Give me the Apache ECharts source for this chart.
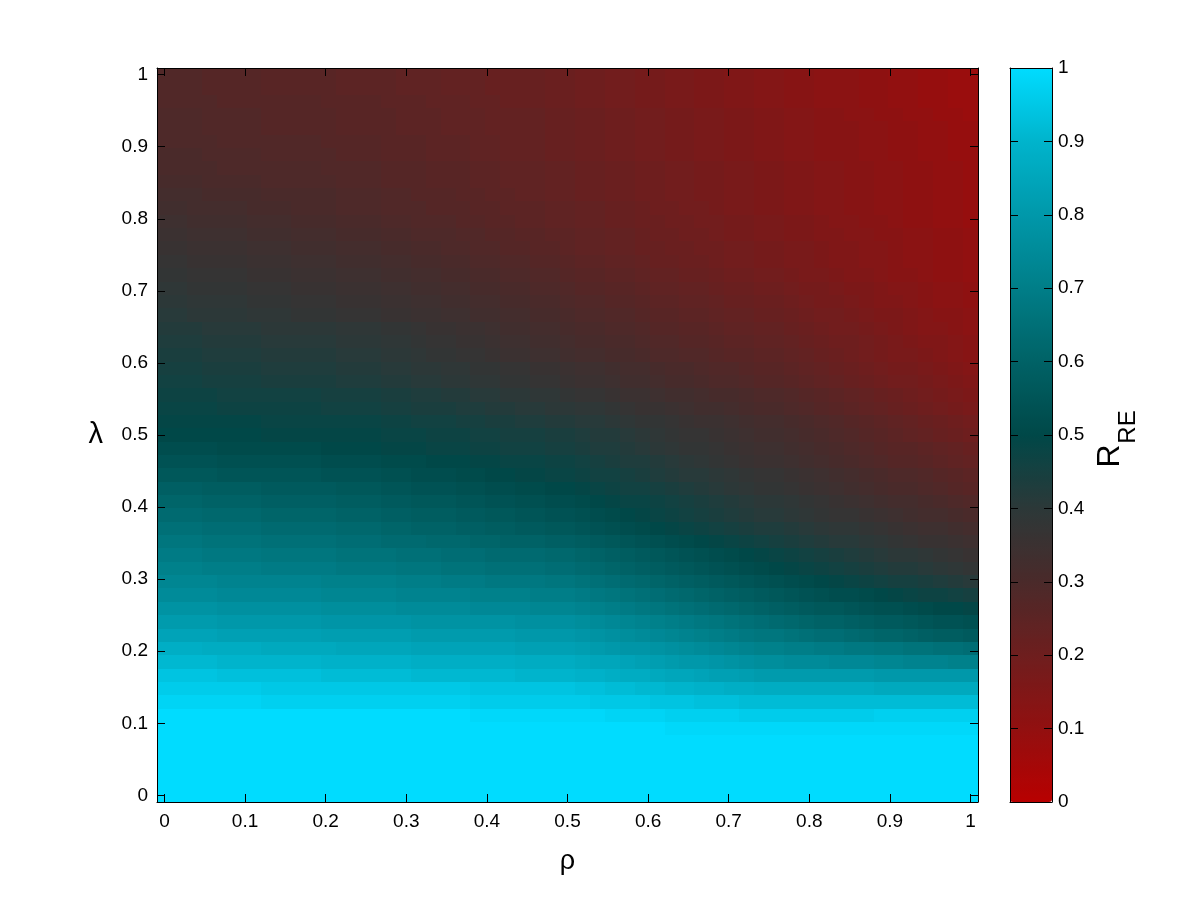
<!DOCTYPE html>
<html>
<head>
<meta charset="utf-8">
<script src="https://cdn.jsdelivr.net/npm/echarts@6/dist/echarts.min.js"></script>
<style>
  html, body { margin: 0; padding: 0; background: #fff; }
  #chart { width: 1200px; height: 901px; }
</style>
</head>
<body>
<div id="chart"></div>
<script>
// sampling of rho (x) and lambda (y): 55 points on [0, 1]
const rho = [0, 0.0185, 0.0370, 0.0556, 0.0741, 0.0926, 0.1111, 0.1296, 0.1481, 0.1667, 0.1852,
  0.2037, 0.2222, 0.2407, 0.2593, 0.2778, 0.2963, 0.3148, 0.3333, 0.3519, 0.3704, 0.3889,
  0.4074, 0.4259, 0.4444, 0.4630, 0.4815, 0.5, 0.5185, 0.5370, 0.5556, 0.5741, 0.5926,
  0.6111, 0.6296, 0.6481, 0.6667, 0.6852, 0.7037, 0.7222, 0.7407, 0.7593, 0.7778, 0.7963,
  0.8148, 0.8333, 0.8519, 0.8704, 0.8889, 0.9074, 0.9259, 0.9444, 0.9630, 0.9815, 1]
const lambda = rho.slice()

// R_RE in percent, one row per lambda (first row = lambda 0), one column per rho
const rrePct = [
  [100,100,100,100,100,100,100,100,100,100,100,100,100,100, 100,100,100,100,100,100,100,100,100,100,100,100,100,100, 100,100,100,100,100,100,100,100,100,100,100,100,100, 100,100,100,100,100,100,100,100,100,100,100,100,100,100],
  [100,100,100,100,100,100,100,100,100,100,100,100,100,100, 100,100,100,100,100,100,100,100,100,100,100,100,100,100, 100,100,100,100,100,100,100,100,100,100,100,100,100, 100,100,100,100,100,100,100,100,100,100,100,100,100,100],
  [100,100,100,100,100,100,100,100,100,100,100,100,100,100, 100,100,100,100,100,100,100,100,100,100,100,100,100,100, 100,100,100,100,100,100,100,100,100,100,100,100,100, 100,100,100,100,100,100,100,100,100,100,100,100,100,100],
  [100,100,100,100,100,100,100,100,100,100,100,100,100,100, 100,100,100,100,100,100,100,100,100,100,100,100,100,100, 100,100,100,100,100,100,100,100,100,100,100,100,100, 100,100,100,100,100,100,100,100,100,100,100,100,100,100],
  [100,100,100,100,100,100,100,100,100,100,100,100,100,100, 100,100,100,100,100,100,100,100,100,100,100,100,100,100, 100,100,100,100,100,100,100,100,100,100,100,100,100, 100,100,100,100,100,100,100,100,100,100,100,100,100,100],
  [100,100,100,100,100,100,100,100,100,100,100,100,100,100, 100,100,100,100,100,100,100,100,100,100,100,100,100,100, 100,100,100,100,100,100,99,99,99,99,99,99,99, 99,99,99,99,99,99,99,99,99,99,99,99,99,99],
  [100,100,100,100,100,100,100,100,100,100,100,100,100,100, 100,100,100,100,100,100,100,99,99,99,99,99,99,99, 99,99,98,98,98,98,97,97,97,97,97,96,96, 96,96,96,96,96,96,96,97,97,97,97,97,97,97],
  [98,98,98,98,98,98,98,97,97,97,97,97,97,97, 97,97,97,97,97,97,97,96,96,96,96,96,96,96, 96,95,95,95,95,94,94,94,93,93,93,92,92, 92,92,92,92,92,92,92,92,92,92,92,92,92,92],
  [96,96,96,96,96,96,96,95,95,95,95,95,95,95, 95,95,95,95,95,95,95,94,94,94,94,94,94,94, 93,93,92,92,91,91,90,90,89,89,88,88,87, 87,87,87,87,87,87,87,86,86,86,86,86,86,86],
  [94,94,94,94,93,93,93,93,93,93,93,92,92,92, 92,92,92,91,91,91,91,91,91,91,90,90,90,90, 89,89,88,87,87,86,85,85,84,83,83,82,81, 81,81,81,81,81,81,81,80,80,80,80,80,80,80],
  [91,91,91,91,90,90,90,90,90,90,90,89,89,89, 89,89,89,88,88,88,88,88,88,88,87,87,87,87, 86,85,85,84,83,82,81,80,80,79,78,77,76, 76,75,75,75,74,74,74,73,73,72,72,72,71,71],
  [88,88,88,87,87,87,87,86,86,86,86,86,85,85, 85,85,85,84,84,84,84,84,84,84,83,83,83,83, 82,81,80,79,79,78,77,76,75,74,73,72,71, 71,70,70,69,69,68,68,67,67,66,66,65,65,64],
  [84,84,84,84,83,83,83,83,83,83,83,82,82,82, 82,82,82,81,81,81,81,81,81,81,80,80,80,80, 79,78,77,76,75,74,73,72,71,70,69,68,67, 67,66,65,64,64,63,62,61,61,60,59,58,58,57],
  [81,81,81,81,80,80,80,80,80,80,80,79,79,79, 79,79,79,78,78,78,78,78,78,78,77,77,77,77, 76,75,74,73,72,71,70,69,68,67,66,65,64, 63,62,61,60,60,59,58,57,57,56,55,54,54,53],
  [78,78,78,78,77,77,77,77,77,77,77,76,76,76, 76,76,75,75,75,75,75,74,74,74,74,73,73,73, 72,71,70,69,68,67,66,65,64,63,62,61,60, 59,58,57,56,56,55,54,53,53,52,51,50,50,49],
  [75,75,75,75,74,74,74,74,74,74,74,73,73,73, 73,73,72,72,72,72,72,71,71,71,71,70,70,70, 69,68,67,66,65,64,63,62,61,60,59,58,57, 56,55,54,53,52,52,51,50,49,48,47,47,46,45],
  [73,73,73,73,72,72,72,72,72,72,72,71,71,71, 71,71,70,70,70,69,69,69,68,68,68,68,67,67, 66,65,64,63,62,61,60,59,58,57,56,55,54, 53,52,51,50,49,48,47,46,45,45,44,43,42,41],
  [71,71,71,70,70,70,70,69,69,69,69,69,68,68, 68,68,67,67,67,66,66,66,65,65,65,65,64,64, 63,62,61,60,59,58,57,56,55,54,53,52,51, 50,49,48,47,46,45,44,43,42,42,41,40,39,38],
  [69,69,69,68,68,68,68,67,67,67,67,67,66,66, 66,66,65,65,65,64,64,64,63,63,63,63,62,62, 61,60,59,58,57,56,55,54,53,52,51,50,49, 48,47,46,45,44,43,42,41,40,40,39,38,37,36],
  [67,67,67,66,66,66,66,65,65,65,65,65,64,64, 64,63,63,63,62,62,62,61,61,60,60,60,59,59, 58,57,56,55,54,53,52,51,50,49,48,47,46, 45,44,43,42,41,41,40,39,38,37,36,36,35,34],
  [65,65,65,64,64,64,64,63,63,63,63,63,62,62, 62,61,61,60,60,60,59,59,58,58,57,57,56,56, 55,54,53,52,51,50,49,48,47,46,45,44,43, 43,42,41,40,39,39,38,37,36,35,34,34,33,32],
  [63,63,63,62,62,62,62,61,61,61,61,61,60,60, 60,59,59,58,58,58,57,57,56,56,55,55,54,54, 53,52,51,50,49,48,47,46,45,44,43,42,41, 41,40,39,38,37,37,36,35,34,33,32,32,31,30],
  [61,61,61,60,60,60,60,59,59,59,59,59,58,58, 58,57,57,56,56,56,55,55,54,54,53,53,52,52, 51,50,49,48,48,47,46,45,44,43,42,41,40, 40,39,38,37,36,35,34,33,32,32,31,30,29,28],
  [59,59,59,58,58,58,58,57,57,57,57,57,56,56, 56,55,55,54,54,54,53,53,52,52,51,51,50,50, 49,48,47,46,46,45,44,43,42,41,40,39,38, 38,37,36,35,34,33,32,31,30,30,29,28,27,26],
  [56,56,56,56,55,55,55,55,55,55,55,54,54,54, 54,53,53,52,52,52,51,51,50,50,49,49,48,48, 47,46,46,45,44,43,42,41,41,40,39,38,37, 37,36,35,34,33,32,31,30,29,29,28,27,26,25],
  [54,54,54,54,53,53,53,53,53,53,53,52,52,52, 52,51,51,51,50,50,50,49,49,48,48,48,47,47, 46,45,44,43,43,42,41,40,39,38,37,36,35, 35,34,33,32,31,30,29,28,27,27,26,25,24,23],
  [52,52,52,52,51,51,51,51,51,51,51,50,50,50, 50,49,49,49,48,48,48,47,47,46,46,46,45,45, 44,43,43,42,41,40,39,38,38,37,36,35,34, 34,33,32,31,30,29,28,27,26,26,25,24,23,22],
  [50,50,50,50,50,50,50,49,49,49,49,49,49,49, 49,48,48,48,47,47,47,46,46,45,45,45,44,44, 43,42,42,41,40,39,38,37,37,36,35,34,33, 33,32,31,30,29,28,27,26,25,24,23,22,21,20],
  [49,49,49,49,49,49,49,48,48,48,48,48,48,48, 48,47,47,46,46,46,45,45,44,44,43,43,42,42, 41,41,40,39,38,38,37,36,35,35,34,33,32, 32,31,30,29,28,27,26,25,24,23,22,21,20,19],
  [48,48,48,48,47,47,47,47,47,47,47,46,46,46, 46,45,45,44,44,44,43,43,42,42,41,41,40,40, 39,39,38,37,36,36,35,34,33,33,32,31,30, 30,29,28,27,26,25,24,23,22,21,20,19,18,17],
  [47,47,47,47,46,46,46,46,46,46,46,45,45,45, 45,44,44,43,43,42,42,41,41,40,40,39,39,38, 37,37,36,35,35,34,33,33,32,31,31,30,29, 29,28,27,26,25,24,23,22,21,20,19,18,17,16],
  [46,46,46,45,45,45,45,44,44,44,44,44,43,43, 43,42,42,41,41,40,40,39,39,38,38,37,37,36, 35,35,34,33,33,32,31,31,30,29,29,28,27, 27,26,25,24,23,22,21,20,19,19,18,17,16,15],
  [45,45,45,44,44,44,44,43,43,43,43,43,42,42, 42,41,41,40,40,39,39,38,38,37,37,36,36,35, 34,34,33,32,32,31,30,30,29,28,28,27,26, 26,25,24,23,22,21,20,19,18,18,17,16,15,14],
  [44,44,44,43,43,43,43,42,42,42,42,42,41,41, 41,40,40,39,38,38,37,37,36,35,35,34,34,33, 32,32,31,31,30,29,29,28,28,27,26,26,25, 25,24,23,22,21,20,19,18,17,17,16,15,14,13],
  [43,43,43,42,42,42,42,41,41,41,41,41,40,40, 40,39,39,38,37,37,36,36,35,34,34,33,33,32, 31,31,30,30,29,28,28,27,27,26,25,25,24, 24,23,22,21,20,20,19,18,17,16,15,15,14,13],
  [42,42,42,41,41,41,41,40,40,40,40,40,39,39, 39,38,38,37,36,36,35,35,34,33,33,32,32,31, 30,30,29,29,28,27,27,26,26,25,24,24,23, 23,22,21,20,19,19,18,17,16,15,14,14,13,12],
  [41,41,40,40,40,40,39,39,39,38,38,38,37,37, 37,36,36,35,35,34,34,33,33,32,32,31,31,30, 29,29,28,28,27,26,26,25,25,24,23,23,22, 22,21,20,19,19,18,17,16,16,15,14,13,13,12],
  [40,40,39,39,39,39,38,38,38,37,37,37,36,36, 36,35,35,34,34,33,33,32,32,31,31,30,30,29, 28,28,27,27,26,25,25,24,24,23,22,22,21, 21,20,19,18,18,17,16,15,15,14,13,12,12,11],
  [39,39,38,38,38,38,37,37,37,36,36,36,35,35, 35,34,34,33,33,32,32,31,31,30,30,29,29,28, 27,27,26,26,25,24,24,23,23,22,21,21,20, 20,19,18,18,17,16,16,15,14,14,13,12,12,11],
  [38,38,37,37,37,37,36,36,36,35,35,35,34,34, 34,33,33,32,32,31,31,30,30,29,29,28,28,27, 26,26,25,25,24,23,23,22,22,21,20,20,19, 19,18,17,17,16,15,15,14,13,13,12,11,11,10],
  [37,37,36,36,36,36,35,35,35,34,34,34,33,33, 33,32,32,31,31,30,30,29,29,28,28,27,27,26, 25,25,24,24,23,22,22,21,21,20,19,19,18, 18,17,17,16,15,15,14,14,13,12,12,11,11,10],
  [36,36,35,35,35,35,34,34,34,33,33,33,32,32, 32,31,31,30,30,29,29,28,28,27,27,26,26,25, 24,24,23,23,22,22,21,21,20,20,19,19,18, 18,17,17,16,15,15,14,14,13,12,12,11,11,10],
  [35,35,34,34,34,34,33,33,33,32,32,32,31,31, 31,30,30,29,29,29,28,28,27,27,26,26,25,25, 24,24,23,23,22,21,21,20,20,19,18,18,17, 17,16,16,15,15,14,14,13,13,12,12,11,11,10],
  [34,34,33,33,33,33,32,32,32,31,31,31,30,30, 30,29,29,28,28,28,27,27,26,26,25,25,24,24, 23,23,22,22,21,21,20,20,19,19,18,18,17, 17,16,16,15,14,14,13,13,12,11,11,10,10,9],
  [33,33,32,32,32,32,31,31,31,30,30,30,29,29, 29,28,28,28,27,27,27,26,26,25,25,25,24,24, 23,23,22,22,21,20,20,19,19,18,17,17,16, 16,15,15,14,14,13,13,12,12,11,11,10,10,9],
  [32,32,32,31,31,31,31,30,30,30,30,30,29,29, 29,28,28,27,27,27,26,26,25,25,24,24,23,23, 22,22,21,21,20,20,19,19,18,18,17,17,16, 16,15,15,14,14,13,13,12,12,11,11,10,10,9],
  [31,31,31,30,30,30,30,29,29,29,29,29,28,28, 28,27,27,27,26,26,26,25,25,24,24,24,23,23, 22,22,21,21,20,20,19,19,18,18,17,17,16, 16,15,15,14,14,13,13,12,12,11,11,10,10,9],
  [30,30,30,30,29,29,29,29,29,29,29,28,28,28, 28,27,27,27,26,26,26,25,25,24,24,24,23,23, 22,22,21,21,20,20,19,19,18,18,17,17,16, 16,15,15,14,14,13,13,12,12,11,11,10,10,9],
  [30,30,30,29,29,29,29,28,28,28,28,28,27,27, 27,26,26,26,25,25,25,24,24,23,23,23,22,22, 21,21,20,20,19,19,18,18,17,17,16,16,15, 15,14,14,13,13,13,12,12,11,11,10,10,9,9],
  [29,29,29,29,28,28,28,28,28,28,28,27,27,27, 27,26,26,26,25,25,25,24,24,23,23,23,22,22, 21,21,20,20,19,19,18,18,17,17,16,16,15, 15,14,14,13,13,13,12,12,11,11,10,10,9,9],
  [29,29,29,28,28,28,28,27,27,27,27,27,26,26, 26,26,25,25,25,24,24,24,23,23,23,23,22,22, 21,21,20,20,19,19,18,18,17,17,16,16,15, 15,14,14,13,13,13,12,12,11,11,10,10,9,9],
  [29,29,29,28,28,28,28,27,27,27,27,27,26,26, 26,26,25,25,25,24,24,24,23,23,23,23,22,22, 21,21,20,20,19,19,18,18,17,17,16,16,15, 15,14,14,13,13,12,12,11,11,10,10,9,9,8],
  [28,28,28,28,27,27,27,27,27,27,27,26,26,26, 26,25,25,25,24,24,24,23,23,22,22,22,21,21, 20,20,19,19,18,18,17,17,16,16,15,15,14, 14,13,13,12,12,12,11,11,10,10,9,9,8,8],
  [28,28,28,27,27,27,27,26,26,26,26,26,25,25, 25,25,24,24,24,23,23,23,22,22,22,22,21,21, 20,20,19,19,18,18,17,17,16,16,15,15,14, 14,13,13,12,12,12,11,11,10,10,9,9,8,8],
  [28,28,28,27,27,27,27,26,26,26,26,26,25,25, 25,25,24,24,24,23,23,23,22,22,22,22,21,21, 20,20,19,19,18,18,17,17,16,16,15,15,14, 14,13,13,12,12,12,11,11,10,10,9,9,8,8]
]

// colormap, evenly spread over 0..1
const cmap = ['#b80000', '#a50808', '#921010', '#801717', '#6e1e1e', '#5c2424', '#4a2a2a',
  '#3b3131', '#2c3838', '#164040', '#004848', '#005557', '#006266', '#007077', '#007e88',
  '#008b99', '#0098aa', '#00a6bb', '#00b4cc', '#00c8e6', '#00dcff']

const FONT = '"Liberation Sans", Arial, Helvetica, sans-serif'

const cells = []
rrePct.forEach((row, j) => {
  row.forEach((v, i) => cells.push([rho[i], lambda[j], v / 100]))
})

const half = (rho[1] - rho[0]) / 2
const lo = rho[0] - half
const hi = rho[rho.length - 1] + half

const black = { color: '#000', width: 1 }
const inTick = { show: true, inside: true, length: 8, lineStyle: black }
const noLabel = { show: false }

function frameAxis(extra) {
  return Object.assign({
    type: 'value',
    z: 5,
    axisLine: { show: true, onZero: false, lineStyle: black },
    axisTick: inTick,
    splitLine: { show: false },
    axisLabel: noLabel,
  }, extra)
}

const tickLabel = {
  show: true, color: '#000', fontSize: 19, fontFamily: FONT,
  showMinLabel: false, showMaxLabel: false,
}

const chart = echarts.init(document.getElementById('chart'), null, { renderer: 'canvas' })

chart.setOption({
  animation: false,
  backgroundColor: '#fff',
  textStyle: { fontFamily: FONT },
  grid: [
    { left: 157, top: 68, width: 821, height: 734 },
    { left: 1010, top: 68, width: 42, height: 734 },
  ],
  xAxis: [
    frameAxis({
      gridIndex: 0, position: 'bottom', min: lo, max: hi, splitNumber: 10,
      axisLabel: Object.assign({ margin: 10 }, tickLabel),
      name: 'ρ', nameLocation: 'middle', nameGap: 46,
      nameTextStyle: { color: '#000', fontSize: 27, fontFamily: FONT },
    }),
    frameAxis({ gridIndex: 0, position: 'top', min: lo, max: hi, splitNumber: 10 }),
    frameAxis({ gridIndex: 1, position: 'bottom', min: 0, max: 1, axisTick: { show: false } }),
    frameAxis({ gridIndex: 1, position: 'top', min: 0, max: 1, axisTick: { show: false } }),
  ],
  yAxis: [
    frameAxis({
      gridIndex: 0, position: 'left', min: lo, max: hi, splitNumber: 10,
      axisLabel: Object.assign({ margin: 9 }, tickLabel),
      name: 'λ', nameLocation: 'middle', nameGap: 54, nameRotate: 0,
      nameTextStyle: { color: '#000', fontSize: 29, fontFamily: FONT },
    }),
    frameAxis({ gridIndex: 0, position: 'right', min: lo, max: hi, splitNumber: 10 }),
    frameAxis({
      gridIndex: 1, position: 'right', min: 0, max: 1, interval: 0.1,
      axisLabel: { show: true, margin: 6, color: '#000', fontSize: 19, fontFamily: FONT },
    }),
    frameAxis({ gridIndex: 1, position: 'left', min: 0, max: 1, interval: 0.1 }),
  ],
  visualMap: {
    type: 'continuous',
    min: 0,
    max: 1,
    dimension: 2,
    seriesIndex: 0,
    calculable: false,
    hoverLink: false,
    orient: 'vertical',
    left: 1010,
    top: 68,
    padding: 0,
    itemWidth: 42,
    itemHeight: 734,
    inRange: { color: cmap },
  },
  graphic: [
    {
      type: 'text', x: 1110, y: 456, rotation: Math.PI / 2,
      style: { text: 'R', font: '32px ' + FONT, fill: '#000', align: 'center', verticalAlign: 'middle' },
    },
    {
      type: 'text', x: 1128, y: 427, rotation: Math.PI / 2,
      style: { text: 'RE', font: '24px ' + FONT, fill: '#000', align: 'center', verticalAlign: 'middle' },
    },
  ],
  series: [{
    type: 'custom',
    xAxisIndex: 0,
    yAxisIndex: 0,
    silent: true,
    clip: true,
    progressive: 0,
    encode: { x: 0, y: 1 },
    data: cells,
    renderItem(params, api) {
      const x = api.value(0)
      const y = api.value(1)
      const a = api.coord([x - half, y + half])
      const b = api.coord([x + half, y - half])
      // snap to whole pixels so neighbouring cells meet without seams
      const x0 = Math.round(a[0])
      const y0 = Math.round(a[1])
      return {
        type: 'rect',
        shape: { x: x0, y: y0, width: Math.round(b[0]) - x0, height: Math.round(b[1]) - y0 },
        style: { fill: api.visual('color') },
      }
    },
  }],
})

window.addEventListener('resize', () => chart.resize())
</script>
</body>
</html>
